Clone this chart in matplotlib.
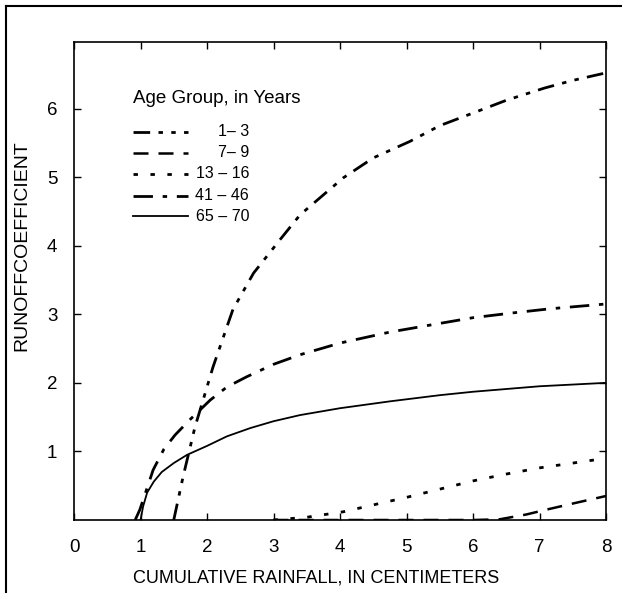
import matplotlib
matplotlib.use("Agg")
import matplotlib.pyplot as plt
from matplotlib.lines import Line2D

plt.rcParams["font.family"] = ["Liberation Sans", "DejaVu Sans"]

# runoff coefficient vs cumulative rainfall
age_labels = ["1\u2013 3", "7\u2013 9", "13 \u2013 16", "41 \u2013 46", "65 \u2013 70"]

x_1_3 = [1.5, 1.64, 1.82, 1.92, 2.09, 2.39, 2.7, 3.1, 3.4, 4.05, 4.5, 5.05, 5.5, 6.07, 6.5, 7.08, 7.5, 8.0]
y_1_3 = [0.0, 0.63, 1.36, 1.68, 2.23, 3.07, 3.6, 4.09, 4.45, 4.99, 5.28, 5.52, 5.75, 5.96, 6.12, 6.3, 6.41, 6.52]

x_7_9 = [3.0, 4.0, 5.0, 6.0, 6.4, 6.8, 7.1, 7.5, 8.0]
y_7_9 = [0.0, 0.0, 0.0, 0.0, 0.01, 0.08, 0.15, 0.24, 0.35]

x_13_16 = [3.0, 3.5, 4.05, 4.5, 5.0, 5.5, 6.0, 6.5, 7.0, 7.5, 8.0]
y_13_16 = [0.0, 0.04, 0.12, 0.22, 0.33, 0.45, 0.57, 0.67, 0.76, 0.83, 0.9]

x_41_46 = [0.92, 0.99, 1.19, 1.35, 1.52, 1.74, 2.05, 2.3, 2.6, 3.0, 3.4, 4.0, 4.75, 5.4, 6.0, 6.6, 7.16, 8.0]
y_41_46 = [0.0, 0.15, 0.73, 1.03, 1.24, 1.46, 1.75, 1.94, 2.09, 2.27, 2.41, 2.58, 2.74, 2.85, 2.95, 3.02, 3.08, 3.15]

x_65_70 = [1.0, 1.04, 1.1, 1.2, 1.32, 1.5, 1.7, 2.0, 2.3, 2.65, 3.0, 3.4, 4.0, 4.75, 5.5, 6.0, 7.0, 8.0]
y_65_70 = [0.0, 0.2, 0.4, 0.56, 0.7, 0.83, 0.95, 1.08, 1.22, 1.34, 1.44, 1.53, 1.63, 1.73, 1.82, 1.87, 1.95, 2.0]

xticks = [0, 1, 2, 3, 4, 5, 6, 7, 8]
yticks = [1, 2, 3, 4, 5, 6]

series = [
    (x_1_3, y_1_3, dict(dashes=(6, 3, 1.6, 3, 1.6, 3), lw=2.0)),
    (x_7_9, y_7_9, dict(dashes=(6, 4), lw=1.8)),
    (x_13_16, y_13_16, dict(dashes=(1.6, 4.5), lw=2.0)),
    (x_41_46, y_41_46, dict(dashes=(7, 3.5, 1.6, 3.5), lw=2.0)),
    (x_65_70, y_65_70, dict(linestyle="-", lw=1.3)),
]

fig = plt.figure(figsize=(6.22, 5.93), dpi=100)
ax = fig.add_axes([74 / 622, 73 / 593, 532 / 622, 478 / 593])

for xs, ys, style in series:
    ax.plot(xs, ys, color="black", solid_capstyle="butt", dash_capstyle="butt", **style)

ax.set_xlim(0, 8)
ax.set_ylim(0, 6.97)
ax.set_xticks(xticks)
ax.set_yticks(yticks)
ax.tick_params(direction="in", length=5, width=1, top=True, right=True,
               labelsize=13.5, colors="black")
ax.tick_params(axis="x", pad=14)
ax.tick_params(axis="y", pad=12)
for sp in ax.spines.values():
    sp.set_linewidth(1.2)

ax.set_xlabel("CUMULATIVE RAINFALL, IN CENTIMETERS", fontsize=13, va="center")
ax.set_ylabel("RUNOFFCOEFFICIENT", fontsize=14, va="center")
ax.xaxis.set_label_coords(0.455, -0.121)
ax.yaxis.set_label_coords(-0.098, 0.575)

# hand-placed legend like the original
ax.text(0.111, 0.881, "Age Group, in Years", transform=ax.transAxes,
        fontsize=13.5, va="center", ha="left")
row_y = [0.812, 0.768, 0.724, 0.678, 0.635]
for (xs, ys, style), lab, yy in zip(series, age_labels, row_y):
    ax.add_line(Line2D([0.111, 0.214], [yy, yy], transform=ax.transAxes,
                       color="black", **style))
    ax.text(0.329, yy, lab, transform=ax.transAxes, fontsize=11.5,
            va="center", ha="right")

# scan border (left and top edges)
fig.add_artist(Line2D([6 / 622, 6 / 622], [0, 1 - 6 / 593], transform=fig.transFigure,
                      color="black", lw=1.5))
fig.add_artist(Line2D([6 / 622, 1], [1 - 6 / 593, 1 - 6 / 593], transform=fig.transFigure,
                      color="black", lw=1.5))

fig.savefig("out.png", dpi=100)
